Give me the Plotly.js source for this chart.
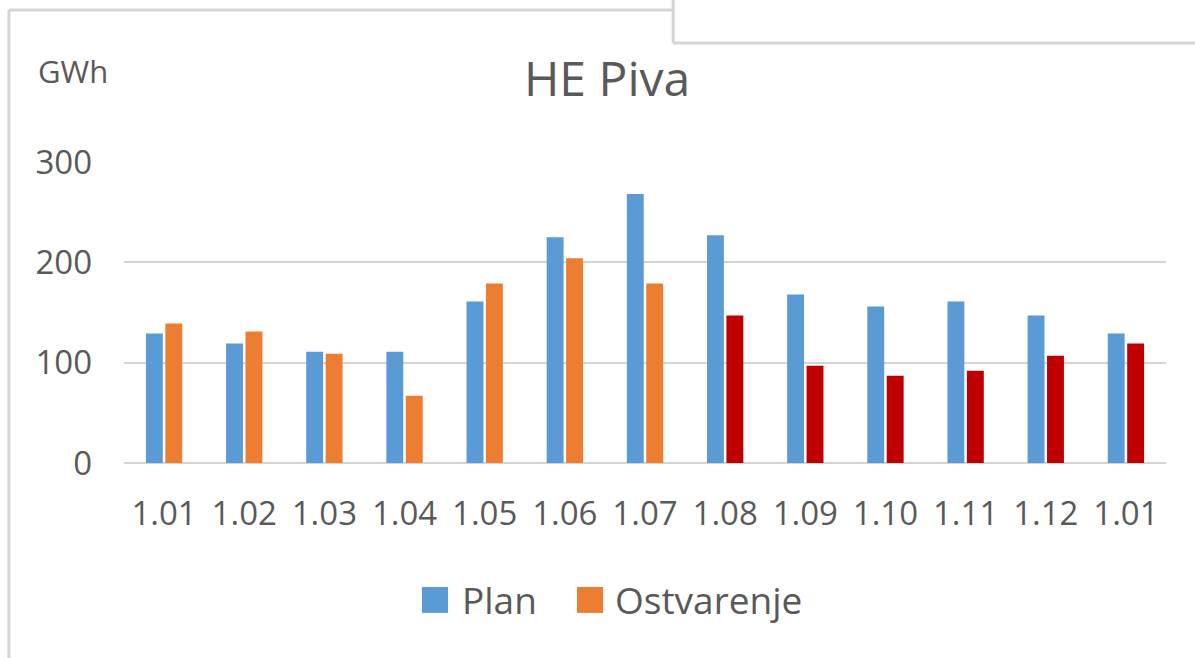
<!DOCTYPE html>
<html>
<head>
<meta charset="utf-8">
<script src="https://cdn.plot.ly/plotly-3.0.1.min.js"></script>
<style>
  html, body { margin: 0; padding: 0; background: #fff; }
  #chart { width: 1195px; height: 658px; }
</style>
</head>
<body>
<div id="chart"></div>
<script>
// mjeseci (zadnji je 1.01 sljedece godine)
var months = ['1.01', '1.02', '1.03', '1.04', '1.05', '1.06', '1.07',
              '1.08', '1.09', '1.10', '1.11', '1.12', '1.01'];
var plan = [129, 119, 111, 111, 161, 225, 268, 227, 168, 156, 161, 147, 129];
var ostvarenje = [139, 131, 109, 67, 179, 204, 179, 147, 97, 87, 92, 107, 119];
var realizedCount = 7; // prvih 7 mjeseci narandzasto, ostalo crveno

var yTicks = [0, 100, 200, 300];

var txtColor = '#595959';
var font = 'Open Sans, Noto Sans, sans-serif';

// pozicije kategorija (oznake se ponavljaju pa idemo preko indeksa)
var idx = months.map(function (m, i) { return i; });
var ostvColors = ostvarenje.map(function (v, i) {
  return i < realizedCount ? '#ED7D31' : '#C00000';
});

var trace1 = {
  x: idx,
  y: plan,
  type: 'bar',
  name: 'Plan',
  marker: { color: '#5B9BD5' },
  showlegend: false,
  hoverinfo: 'y',
};
var trace2 = {
  x: idx,
  y: ostvarenje,
  type: 'bar',
  name: 'Ostvarenje',
  marker: { color: ostvColors },
  showlegend: false,
  hoverinfo: 'y',
};

var grey = '#d4d4d4';
var layout = {
  width: 1195,
  height: 658,
  margin: { l: 124, r: 29, t: 162, b: 195 },
  paper_bgcolor: '#fff',
  plot_bgcolor: '#fff',
  font: { family: font, color: txtColor },
  title: {
    text: 'HE Piva',
    font: { size: 48, color: txtColor, family: font },
    xref: 'container', yref: 'container',
    x: 0.508, y: 0.879, xanchor: 'center', yanchor: 'middle',
  },
  bargap: 0.515,
  bargroupgap: 0.13,
  xaxis: {
    tickvals: idx,
    ticktext: months,
    range: [-0.5, months.length - 0.5],
    showgrid: false,
    zeroline: false,
    showline: false,
    ticks: '',
    tickfont: { size: 33, color: txtColor },
    ticklabelstandoff: 28,
  },
  yaxis: {
    range: [0, 300],
    tickvals: yTicks,
    showgrid: true,
    gridcolor: grey,
    gridwidth: 2,
    zeroline: true,
    zerolinecolor: grey,
    zerolinewidth: 2,
    ticks: '',
    tickfont: { size: 33, color: txtColor },
    ticklabelstandoff: 31,
  },
  annotations: [
    { text: 'GWh', xref: 'paper', yref: 'paper', x: -0.0845, y: 1.302,
      xanchor: 'left', yanchor: 'middle', showarrow: false,
      font: { size: 31, color: txtColor } },
    // legenda
    { text: 'Plan', xref: 'paper', yref: 'paper', x: 0.3226, y: -0.455,
      xanchor: 'left', yanchor: 'middle', showarrow: false,
      font: { size: 37, color: txtColor } },
    { text: 'Ostvarenje', xref: 'paper', yref: 'paper', x: 0.4693, y: -0.455,
      xanchor: 'left', yanchor: 'middle', showarrow: false,
      font: { size: 37, color: txtColor } },
  ],
  shapes: [
    { type: 'rect', xref: 'paper', yref: 'paper', x0: 0.2860, x1: 0.3110,
      y0: -0.412, y1: -0.498, fillcolor: '#5B9BD5', line: { width: 0 } },
    { type: 'rect', xref: 'paper', yref: 'paper', x0: 0.4347, x1: 0.4597,
      y0: -0.412, y1: -0.498, fillcolor: '#ED7D31', line: { width: 0 } },
    // okvir oko grafika
    { type: 'line', xref: 'paper', yref: 'paper', x0: -0.1104, x1: -0.1104,
      y0: 1.505, y1: -0.65, line: { color: grey, width: 3 } },
    { type: 'line', xref: 'paper', yref: 'paper', x0: -0.1104, x1: 0.527,
      y0: 1.505, y1: 1.505, line: { color: grey, width: 3 } },
    { type: 'line', xref: 'paper', yref: 'paper', x0: 0.527, x1: 0.527,
      y0: 1.54, y1: 1.395, line: { color: grey, width: 3 } },
    { type: 'line', xref: 'paper', yref: 'paper', x0: 0.527, x1: 1.03,
      y0: 1.395, y1: 1.395, line: { color: grey, width: 3 } },
  ],
};

Plotly.newPlot('chart', [trace1, trace2], layout, {
  displayModeBar: false,
  displaylogo: false,
  responsive: false,
});
</script>
</body>
</html>
